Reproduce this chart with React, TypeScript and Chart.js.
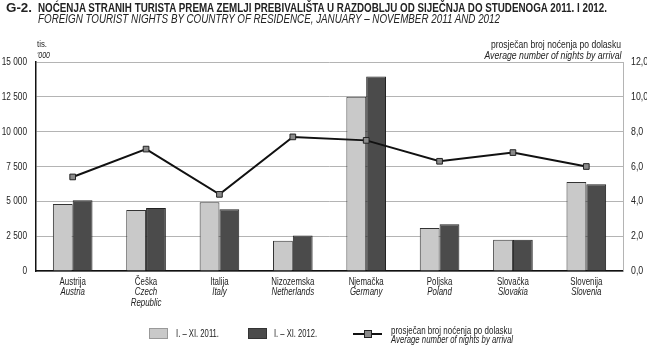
import React, { useEffect, useLayoutEffect, useRef } from "react";
import { Chart, registerables } from "chart.js";

Chart.register(...registerables);

const countries = [
  ["Austrija", "Austria"],
  ["Češka", "Czech", "Republic"],
  ["Italija", "Italy"],
  ["Nizozemska", "Netherlands"],
  ["Njemačka", "Germany"],
  ["Poljska", "Poland"],
  ["Slovačka", "Slovakia"],
  ["Slovenija", "Slovenia"],
];
const nights2011 = [4800, 4380, 4930, 2180, 12500, 3080, 2250, 6380];
const nights2012 = [5070, 4520, 4440, 2540, 13960, 3360, 2250, 6230];
const avgNights = [5.4, 7.0, 4.4, 7.7, 7.5, 6.3, 6.8, 6.0];
const leftTicks = [0, 2500, 5000, 7500, 10000, 12500, 15000];
const rightTicks = [0, 2, 4, 6, 8, 10, 12];

const FONT = "'Liberation Sans', Arial, sans-serif";

const fmtLeft = (v: number) => {
  const s = String(Math.round(v));
  return s.length > 3 ? s.slice(0, s.length - 3) + " " + s.slice(-3) : s;
};
const fmtRight = (v: number) => v.toFixed(1).replace(".", ",");

function drawNarrow(ctx: any, text: string, x: number, y: number, align: string, font: string, sx: number) {
  ctx.save();
  ctx.font = font;
  ctx.textAlign = align;
  ctx.textBaseline = "middle";
  ctx.translate(x, y);
  ctx.scale(sx, 1);
  ctx.fillText(text, 0, 0);
  ctx.restore();
}

const labelsPlugin = {
  id: "labelsPlugin",
  afterDraw(chart: any) {
    const ctx = chart.ctx;
    const x = chart.scales.x;
    const y = chart.scales.y;
    const y1 = chart.scales.y1;
    ctx.save();
    ctx.fillStyle = "#222";
    countries.forEach((lines, i) => {
      const cx = x.getPixelForValue(i);
      lines.forEach((t, j) => {
        drawNarrow(ctx, t, cx, 282 + j * 10.5, "center", (j === 0 ? "" : "italic ") + "10px " + FONT, 0.79);
      });
    });
    leftTicks.forEach((v) => {
      drawNarrow(ctx, fmtLeft(v), 27, y.getPixelForValue(v), "right", "11px " + FONT, 0.75);
    });
    rightTicks.forEach((v) => {
      drawNarrow(ctx, fmtRight(v), 631, y1.getPixelForValue(v), "left", "11px " + FONT, 0.8);
    });
    ctx.restore();
  },
};

function Fit(props: { w: number; left?: number; right?: number; top: number; size: number; bold?: boolean; italic?: boolean; text: string }) {
  const ref = useRef<HTMLDivElement>(null);
  useLayoutEffect(() => {
    const el = ref.current!;
    el.style.transform = "none";
    const nat = el.getBoundingClientRect().width;
    el.style.transform = `scaleX(${props.w / nat})`;
  }, []);
  const st: React.CSSProperties = {
    position: "absolute",
    whiteSpace: "nowrap",
    top: props.top,
    fontSize: props.size,
    lineHeight: 1,
    fontWeight: props.bold ? "bold" : "normal",
    fontStyle: props.italic ? "italic" : "normal",
    transformOrigin: props.right !== undefined ? "right top" : "left top",
  };
  if (props.right !== undefined) st.right = props.right;
  else st.left = props.left;
  return <div ref={ref} style={st}>{props.text}</div>;
}

export default function App() {
  const ref = useRef<HTMLCanvasElement>(null);
  useEffect(() => {
    const chart = new Chart(ref.current!, {
      type: "bar",
      data: {
        labels: countries.map((c) => c[0]),
        datasets: [
          {
            type: "line",
            label: "avg",
            data: avgNights,
            yAxisID: "y1",
            borderColor: "#111",
            borderWidth: 2,
            pointStyle: "rect",
            pointRadius: 4,
            pointBackgroundColor: "#8a8a8a",
            pointBorderColor: "#222",
            pointBorderWidth: 1,
            order: 0,
          } as any,
          {
            label: "2011",
            data: nights2011,
            yAxisID: "y",
            backgroundColor: "#c9c9c9",
            borderColor: "#333",
            borderWidth: 1,
            categoryPercentage: 0.54,
            barPercentage: 1.0,
            order: 1,
          },
          {
            label: "2012",
            data: nights2012,
            yAxisID: "y",
            backgroundColor: "#4b4b4b",
            borderColor: "#222",
            borderWidth: 1,
            categoryPercentage: 0.54,
            barPercentage: 1.0,
            order: 1,
          },
        ],
      },
      options: {
        animation: false,
        responsive: false,
        layout: { padding: { top: 62, left: 0, right: 0, bottom: 0 } },
        plugins: { legend: { display: false }, tooltip: { enabled: false } },
        scales: {
          x: {
            grid: { display: false, drawTicks: false },
            border: { color: "#111", width: 1.5 },
            ticks: { display: false },
            afterFit: (s: any) => { s.height = 74; },
          },
          y: {
            position: "left",
            min: 0,
            max: 15000,
            ticks: { stepSize: 2500, display: false },
            grid: { color: "#b4b4b4", drawTicks: false, lineWidth: 1 },
            border: { color: "#111", width: 1.5 },
            afterFit: (s: any) => { s.width = 36; },
          },
          y1: {
            position: "right",
            min: 0,
            max: 12,
            ticks: { stepSize: 2, display: false },
            grid: { display: false, drawTicks: false },
            border: { color: "#b4b4b4", width: 1 },
            afterFit: (s: any) => { s.width = 24; },
          },
        },
      },
      plugins: [labelsPlugin],
    });
    return () => chart.destroy();
  }, []);

  const box = (o: React.CSSProperties): React.CSSProperties => ({ position: "absolute", boxSizing: "border-box", ...o });

  return (
    <div style={{ position: "fixed", left: 0, top: 0, width: 647, height: 345, background: "#fff", fontFamily: FONT, color: "#222", overflow: "hidden" }}>
      <canvas ref={ref} width={647} height={345} style={{ position: "absolute", left: 0, top: 0 }} />
      <Fit left={6} top={2} w={26} size={12} bold text="G-2." />
      <Fit left={38} top={2} w={569} size={12} bold text="NOĆENJA STRANIH TURISTA PREMA ZEMLJI PREBIVALIŠTA U RAZDOBLJU OD SIJEČNJA DO STUDENOGA 2011. I 2012." />
      <Fit left={38} top={13} w={462} size={12} italic text="FOREIGN TOURIST NIGHTS BY COUNTRY OF RESIDENCE, JANUARY – NOVEMBER 2011 AND 2012" />
      <Fit left={37} top={40} w={10} size={9} text="tis." />
      <Fit left={37} top={51} w={13} size={9} italic text="'000" />
      <Fit right={26} top={39} w={130} size={11} text="prosječan broj noćenja po dolasku" />
      <Fit right={26} top={50} w={137} size={11} italic text="Average number of nights by arrival" />

      <div style={box({ left: 149, top: 328, width: 19, height: 11, background: "#c9c9c9", border: "1px solid #999" })} />
      <Fit left={176} top={329} w={43} size={10} text="I. – XI. 2011." />
      <div style={box({ left: 248, top: 328, width: 19, height: 11, background: "#4b4b4b", border: "1px solid #333" })} />
      <Fit left={274} top={329} w={43} size={10} text="I. – XI. 2012." />
      <div style={box({ left: 353, top: 333, width: 29, height: 2, background: "#111" })} />
      <div style={box({ left: 364, top: 330, width: 8, height: 8, background: "#8a8a8a", border: "1px solid #222" })} />
      <Fit left={391} top={326} w={121} size={10} text="prosječan broj noćenja po dolasku" />
      <Fit left={391} top={335} w={122} size={10} italic text="Average number of nights by arrival" />
    </div>
  );
}
